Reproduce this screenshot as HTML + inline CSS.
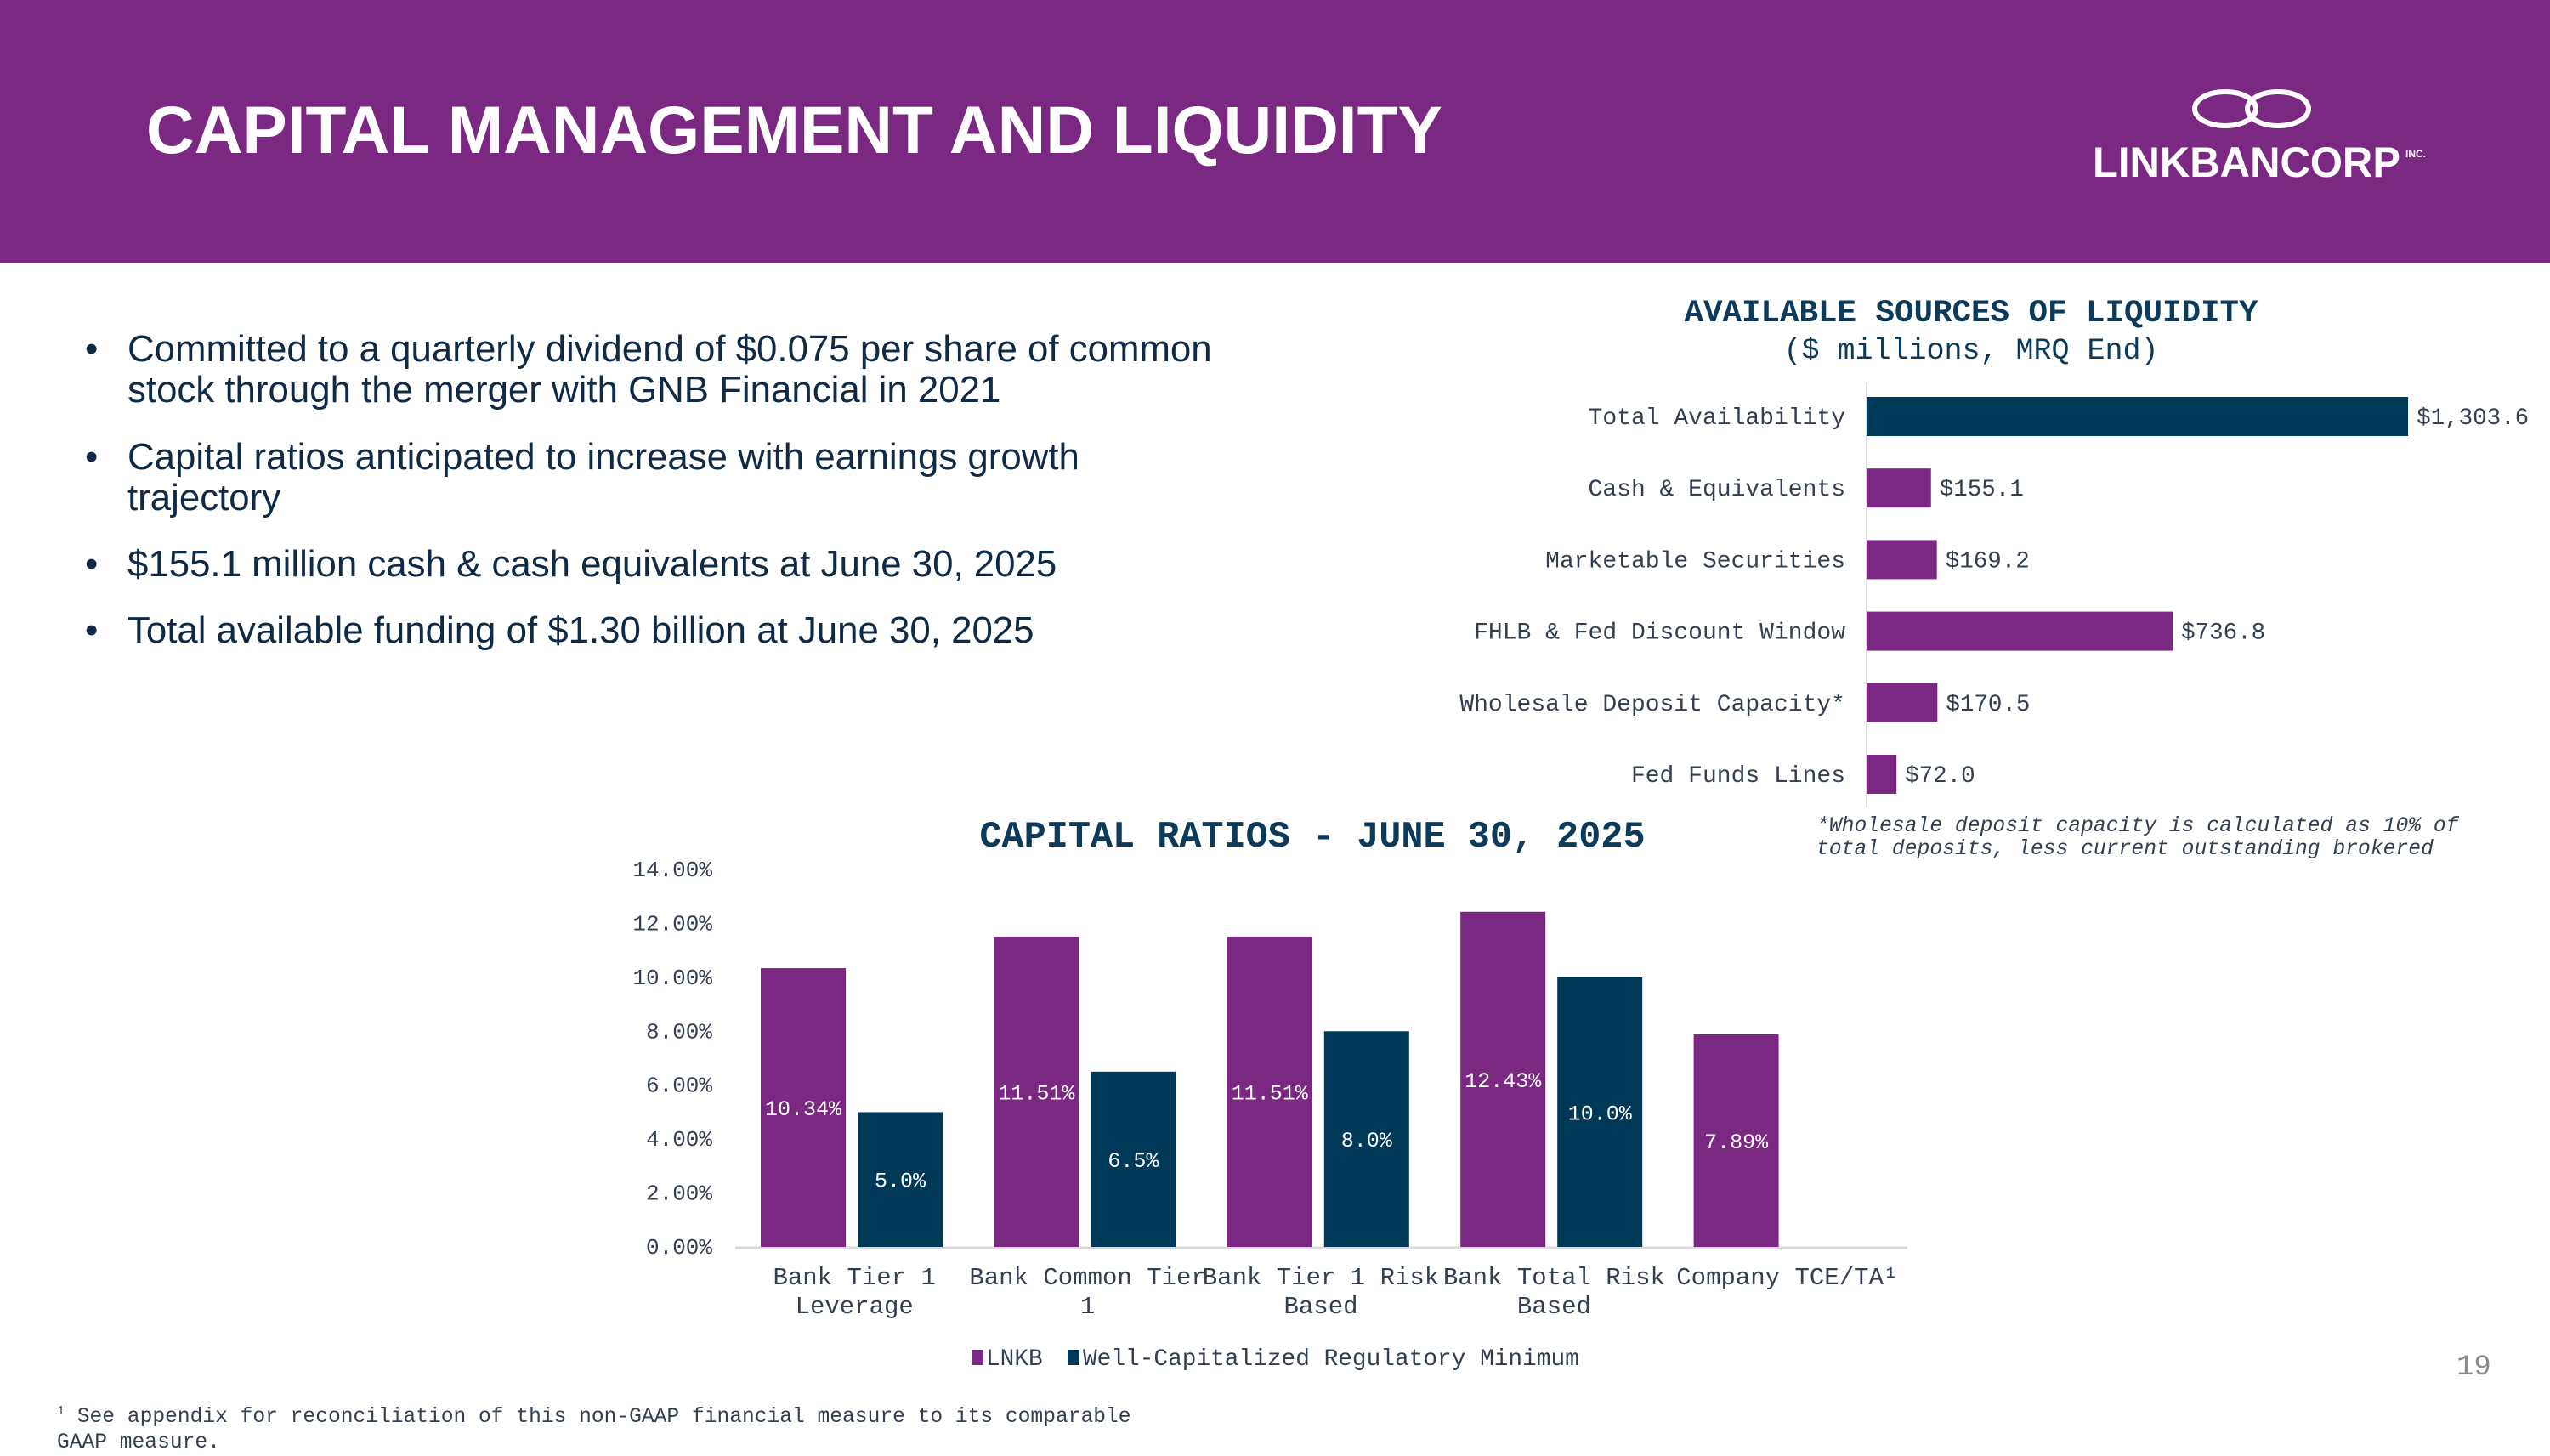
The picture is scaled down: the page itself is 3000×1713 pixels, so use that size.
<!DOCTYPE html>
<html><head><meta charset="utf-8">
<style>
html,body{margin:0;padding:0;}
body{width:3000px;height:1687px;position:relative;overflow:hidden;background:#fff;font-family:"Liberation Sans",sans-serif;}
#hdr{position:absolute;left:0;top:0;width:3000px;height:310px;background:#7a2882;}
#title{position:absolute;left:172px;top:108px;font-size:78.5px;font-weight:bold;color:#fff;letter-spacing:0px;}
.bul{position:absolute;left:100px;font-size:43.8px;color:#0e2a47;line-height:48px;}
.bul span{position:absolute;left:50px;white-space:nowrap;}
svg text{font-family:"Liberation Mono",monospace;}
</style></head><body>
<div id="hdr"></div>
<div id="title">CAPITAL MANAGEMENT AND LIQUIDITY</div>
<svg style="position:absolute;left:2440px;top:90px" width="420" height="140">
 <g fill="none" stroke="#fff" stroke-width="6">
  <ellipse cx="178" cy="38" rx="36" ry="20"/>
  <ellipse cx="240" cy="38" rx="36" ry="20"/>
 </g>
 <text x="22" y="118" fill="#fff" font-size="50" font-weight="bold" textLength="362" lengthAdjust="spacingAndGlyphs" style="font-family:'Liberation Sans',sans-serif">LINKBANCORP</text>
 <text x="390" y="95" fill="#fff" font-size="12" font-weight="bold" style="font-family:'Liberation Sans',sans-serif">INC.</text>
</svg>
<div class="bul" style="top:387px">•<span>Committed to a quarterly dividend of $0.075 per share of common<br>stock through the merger with GNB Financial in 2021</span></div>
<div class="bul" style="top:514px">•<span>Capital ratios anticipated to increase with earnings growth<br>trajectory</span></div>
<div class="bul" style="top:640px">•<span>$155.1 million cash &amp; cash equivalents at June 30, 2025</span></div>
<div class="bul" style="top:718px">•<span>Total available funding of $1.30 billion at June 30, 2025</span></div>

<svg id="liq" style="position:absolute;left:0;top:0" width="3000" height="1687"></svg>
<svg id="cap" style="position:absolute;left:0;top:0" width="3000" height="1687"></svg>

<div style="position:absolute;left:2890px;top:1590px;font-size:34px;color:#8a8a8a;font-family:'Liberation Mono',monospace">19</div>
<div style="position:absolute;left:67px;top:1646px;font-size:24.6px;line-height:30px;color:#333f50;font-family:'Liberation Mono',monospace"><sup style="font-size:15px">1</sup> See appendix for reconciliation of this non-GAAP financial measure to its comparable<br>GAAP measure.</div>

<script>
const NS="http://www.w3.org/2000/svg";
function mk(p,tag,at,txt){const e=document.createElementNS(NS,tag);for(const k in at)e.setAttribute(k,at[k]);if(txt!==undefined)e.textContent=txt;p.appendChild(e);return e;}

// Liquidity chart data
const liqCategories=["Total Availability","Cash & Equivalents","Marketable Securities","FHLB & Fed Discount Window","Wholesale Deposit Capacity*","Fed Funds Lines"];
const liqValues=[1303.6,155.1,169.2,736.8,170.5,72.0];
const liqLabels=["$1,303.6","$155.1","$169.2","$736.8","$170.5","$72.0"];

// Capital ratios data
const capCategories=[["Bank Tier 1","Leverage"],["Bank Common Tier","1"],["Bank Tier 1 Risk","Based"],["Bank Total Risk","Based"],["Company TCE/TA¹",""]];
const lnkbValues=[10.34,11.51,11.51,12.43,7.89];
const lnkbLabels=["10.34%","11.51%","11.51%","12.43%","7.89%"];
const minValues=[5.0,6.5,8.0,10.0,null];
const minLabels=["5.0%","6.5%","8.0%","10.0%",""];
const yTicks=[0,2,4,6,8,10,12,14];
const yTickLabels=["0.00%","2.00%","4.00%","6.00%","8.00%","10.00%","12.00%","14.00%"];

const PURPLE="#7a2882",NAVY="#003857",TXT="#333f50";

(function(){
 const s=document.getElementById('liq');
 const x0=2196,xs=v=>x0+v*0.4887;
 const y0=490,step=84.2;
 let t=mk(s,'text',{x:2319,y:378,'text-anchor':'middle','font-size':37.5,'font-weight':'bold',fill:'#0b3a5a'},"AVAILABLE SOURCES OF LIQUIDITY");
 
 t=mk(s,'text',{x:2319,y:422,'text-anchor':'middle','font-size':35,fill:'#0b3a5a'},"($ millions, MRQ End)");
 
 let ax=mk(s,'line',{x1:x0,y1:450,x2:x0,y2:950,stroke:'#d9d9d9','stroke-width':2});
 
 liqCategories.forEach((c,i)=>{
  const yc=y0+i*step;
  const r=mk(s,'rect',{x:x0,y:yc-23,width:xs(liqValues[i])-x0,height:46,fill:i===0?NAVY:PURPLE});
  
  const l=mk(s,'text',{x:2171,y:yc+9,'text-anchor':'end','font-size':28,fill:TXT},c);
  
  const v=mk(s,'text',{x:xs(liqValues[i])+10,y:yc+9,'font-size':27.5,fill:TXT},liqLabels[i]);
  
 });
 const f=mk(s,'text',{x:2137,y:978,'font-size':24.7,'font-style':'italic',fill:TXT},"*Wholesale deposit capacity is calculated as 10% of");
 
 const f2=mk(s,'text',{x:2137,y:1005,'font-size':24.7,'font-style':'italic',fill:TXT},"total deposits, less current outstanding brokered");
 
})();

(function(){
 const s=document.getElementById('cap');
 const yb=1467,ys=v=>yb-v*(444/14);
 const gx0=870,gw=274.4;
 let t=mk(s,'text',{x:1544,y:996,'text-anchor':'middle','font-size':43.5,'font-weight':'bold',fill:'#0b3a5a'},"CAPITAL RATIOS - JUNE 30, 2025");
 
 yTicks.forEach((v,i)=>{
  const l=mk(s,'text',{x:838,y:ys(v)+8,'text-anchor':'end','font-size':26,fill:TXT},yTickLabels[i]);
  
 });
 const ax=mk(s,'line',{x1:gx0-5,y1:yb+1,x2:2244,y2:yb+1,stroke:'#d9d9d9','stroke-width':3});
 
 capCategories.forEach((c,i)=>{
  const g=gx0+i*gw;
  const bx1=g+25,bx2=g+139;
  const r=mk(s,'rect',{x:bx1,y:ys(lnkbValues[i]),width:100,height:yb-ys(lnkbValues[i]),fill:PURPLE});
  
  const lv=mk(s,'text',{x:bx1+50,y:(ys(lnkbValues[i])+yb)/2+9,'text-anchor':'middle','font-size':25,fill:'#fff'},lnkbLabels[i]);
  
  if(minValues[i]!==null){
   const r2=mk(s,'rect',{x:bx2,y:ys(minValues[i]),width:100,height:yb-ys(minValues[i]),fill:NAVY});
   
   const l2=mk(s,'text',{x:bx2+50,y:(ys(minValues[i])+yb)/2+9,'text-anchor':'middle','font-size':25,fill:'#fff'},minLabels[i]);
   
  }
  const cx=g+gw/2-2;
  const c1=mk(s,'text',{x:cx,y:1511,'text-anchor':'middle','font-size':29,fill:TXT},c[0]);
  
  if(c[1]){const c2=mk(s,'text',{x:cx,y:1545,'text-anchor':'middle','font-size':29,fill:TXT},c[1]);
  }
 });
 const lg=mk(s,'g',{});
 
 const s1=mk(lg,'rect',{x:1143,y:1588,width:14,height:18,fill:PURPLE});
 
 const t1=mk(lg,'text',{x:1160,y:1606,'font-size':27.8,fill:TXT},"LNKB");
 
 const s2=mk(lg,'rect',{x:1256,y:1588,width:14,height:18,fill:NAVY});
 
 const t2=mk(lg,'text',{x:1274,y:1606,'font-size':27.8,fill:TXT},"Well-Capitalized Regulatory Minimum");
 
})();
</script>
</body></html>
